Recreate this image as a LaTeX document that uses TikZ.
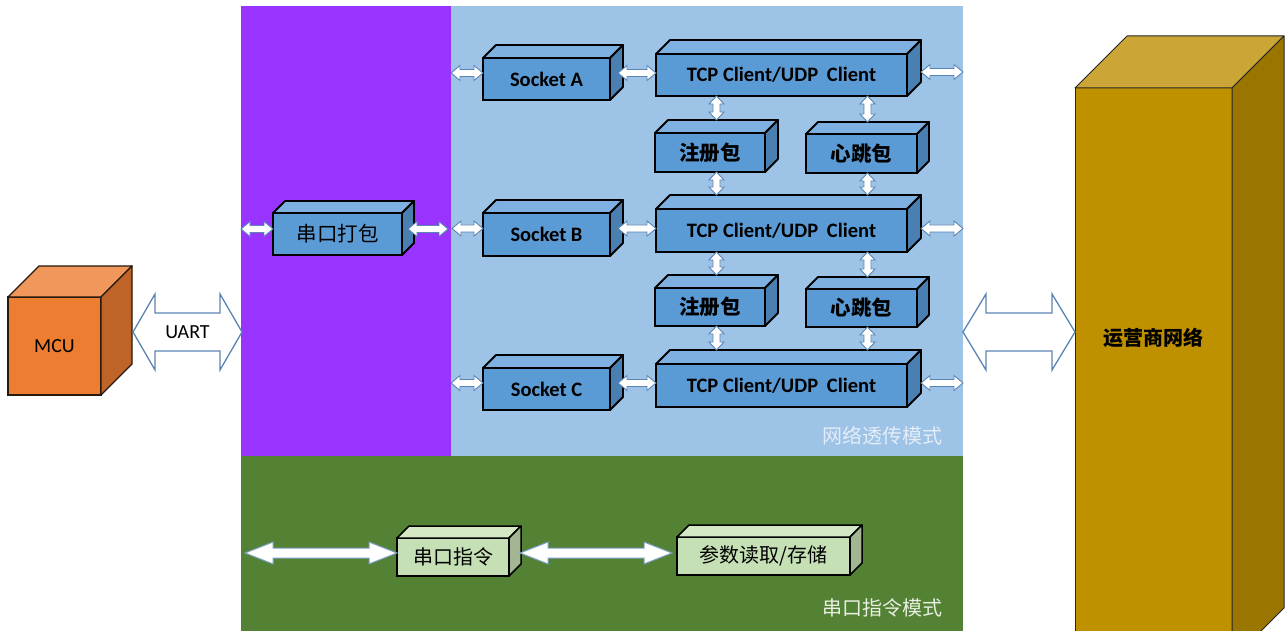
\documentclass[tikz,border=0pt]{standalone}
\usepackage{fontspec}
\setmainfont{Carlito}
\newfontfamily\cjk{Noto Sans CJK SC}
\usetikzlibrary{calc}
\definecolor{purp}{HTML}{9933FF}
\definecolor{lblue}{HTML}{9DC3E6}
\definecolor{dgreen}{HTML}{548235}
\definecolor{bfront}{HTML}{5B9BD5}
\definecolor{btop}{HTML}{7EB1E1}
\definecolor{bside}{HTML}{4A7FB2}
\definecolor{gfront}{HTML}{C5E0B4}
\definecolor{gtop}{HTML}{D4E8C6}
\definecolor{gside}{HTML}{A2B692}
\definecolor{ofront}{HTML}{ED7D31}
\definecolor{otop}{HTML}{F0985C}
\definecolor{oside}{HTML}{BF6428}
\definecolor{yfront}{HTML}{BF9000}
\definecolor{ytop}{HTML}{CBA535}
\definecolor{yside}{HTML}{9A7500}
\definecolor{arrline}{HTML}{5A85B3}
\definecolor{lbltxt}{HTML}{E4EDF7}
\definecolor{lgtxt}{HTML}{E8EFE2}
\tikzset{
  anc/.style={inner sep=0, outer sep=0, anchor=north west},
  ft/.style={font=\fontsize{20}{24}\selectfont},
  bluefront/.style={fill=bfront, draw=black, line width=1.8, ft, font=\fontsize{20.5}{24}\selectfont\bfseries},
  bluetop/.style={fill=btop, draw=black, line width=1.8, line join=round},
  blueside/.style={fill=bside, draw=black, line width=1.8, line join=round},
  greenfront/.style={fill=gfront, draw=black, line width=1.5, ft},
  greentop/.style={fill=gtop, draw=black, line width=1.5, line join=round},
  greenside/.style={fill=gside, draw=black, line width=1.5, line join=round},
  orangefront/.style={fill=ofront, draw=black!80!brown, line width=1.4, ft},
  orangetop/.style={fill=otop, draw=black!80!brown, line width=1.4, line join=round},
  orangeside/.style={fill=oside, draw=black!80!brown, line width=1.4, line join=round},
  goldfront/.style={fill=yfront, draw=black!85, line width=1, ft},
  goldtop/.style={fill=ytop, draw=black!85, line width=1, line join=round},
  goldside/.style={fill=yside, draw=black!85, line width=1, line join=round},
  sarrow/.style={fill=white, draw=arrline, line width=0.9},
  barrow/.style={fill=white, draw=arrline, line width=1.3},
  garrow/.style={fill=white, draw=arrline!80!white, line width=1},
}
% 3D box: name, x1, y1, x2, y2 (front face, pixels), depth, family, text
\newcommand\boxiii[8]{%
  \node[#7front, anc, minimum width={(#4)-(#2)}, minimum height={(#5)-(#3)}] (#1) at (#2,#3) {#8};
  \filldraw[#7top] (#1.north west) -- ([xshift=#6,yshift=#6]#1.north west) -- ([xshift=#6,yshift=#6]#1.north east) -- (#1.north east) -- cycle;
  \filldraw[#7side] (#1.north east) -- ([xshift=#6,yshift=#6]#1.north east) -- ([xshift=#6,yshift=#6]#1.south east) -- (#1.south east) -- cycle;
}
% horizontal block double arrow: from, to, half shaft, half head, head length, style
\newcommand\hdbl[6]{%
  \draw[#6] (#1) -- ($(#1)+(#5,-#4)$) -- ($(#1)+(#5,-#3)$) -- ($(#2)+(-#5,-#3)$) -- ($(#2)+(-#5,-#4)$) -- (#2)
    -- ($(#2)+(-#5,#4)$) -- ($(#2)+(-#5,#3)$) -- ($(#1)+(#5,#3)$) -- ($(#1)+(#5,#4)$) -- cycle;}
% vertical block double arrow: top, bottom, half shaft, half head, head length, style
\newcommand\vdbl[6]{%
  \draw[#6] (#1) -- ($(#1)+(-#4,#5)$) -- ($(#1)+(-#3,#5)$) -- ($(#2)+(-#3,-#5)$) -- ($(#2)+(-#4,-#5)$) -- (#2)
    -- ($(#2)+(#4,-#5)$) -- ($(#2)+(#3,-#5)$) -- ($(#1)+(#3,#5)$) -- ($(#1)+(#4,#5)$) -- cycle;}
\begin{document}
\begin{tikzpicture}[x=1pt,y=-1pt]
\clip (0,0) rectangle (1286,631);
\fill[white] (0,0) rectangle (1286,631);
% panels
\node[anc, fill=purp, minimum width=210, minimum height=450] (pp) at (241,6) {};
\node[anc, fill=lblue, minimum width=512, minimum height=450] (bp) at (451,6) {};
\node[anc, fill=dgreen, minimum width=722, minimum height=176] (gp) at (241,456) {};
\node[ft, text=lbltxt] (lbl1) at (882,436) {\cjk 网络透传模式};
\node[ft, text=lgtxt] (lbl2) at (882,608) {\cjk 串口指令模式};
% blue boxes
\boxiii{sA}{483}{58}{610}{100}{13}{blue}{Socket A}
\boxiii{tA}{656}{54}{907}{96}{14}{blue}{TCP Client/UDP\hspace{0.2em} Client}
\boxiii{rA}{655}{133}{765}{172}{13}{blue}{\cjk 注册包}
\boxiii{hA}{806}{134}{917}{173}{12}{blue}{\cjk 心跳包}
\boxiii{pk}{273}{213}{402}{255}{12}{blue}{\cjk\mdseries 串口打包}
\boxiii{sB}{483}{213}{610}{256}{13}{blue}{Socket B}
\boxiii{tB}{656}{209}{907}{252}{14}{blue}{TCP Client/UDP\hspace{0.2em} Client}
\boxiii{rB}{655}{288}{765}{326}{13}{blue}{\cjk 注册包}
\boxiii{hB}{806}{289}{917}{327}{12}{blue}{\cjk 心跳包}
\boxiii{sC}{483}{368}{610}{410}{13}{blue}{Socket C}
\boxiii{tC}{656}{364}{907}{407}{14}{blue}{TCP Client/UDP\hspace{0.2em} Client}
% green boxes
\boxiii{cmd}{397}{538}{509}{576}{12}{green}{\cjk 串口指令}
\boxiii{par}{677}{537}{850}{575}{12}{green}{\cjk 参数读取/存储}
% MCU and carrier network
\boxiii{mcu}{8}{297}{101}{395}{31}{orange}{MCU}
\boxiii{net}{1075}{88}{1232}{660}{52}{gold}{}
\node[ft, font=\fontsize{20}{24}\selectfont\bfseries] (netlbl) at ([yshift=21]net.center |- 0,359) {\cjk 运营商网络};
% row A arrows
\coordinate (a1) at ([yshift=6]sA.west);
\coordinate (a0) at (bp.west |- a1);
\coordinate (a2) at ([xshift=8,yshift=6]sA.east);
\coordinate (a3) at (tA.west |- a2);
\coordinate (a4) at ([xshift=14,yshift=3]tA.east);
\coordinate (a5) at (bp.east |- a4);
\hdbl{a0}{a1}{3.5}{7.5}{9}{sarrow}
\hdbl{a2}{a3}{3.5}{7.5}{9}{sarrow}
\hdbl{a4}{a5}{3.5}{7.5}{9}{sarrow}
% row B arrows
\coordinate (k1) at ([yshift=5]pk.west);
\coordinate (k0) at (pp.west |- k1);
\coordinate (k2) at ([xshift=6,yshift=5]pk.east);
\coordinate (k3) at ($(pp.east |- k2)+(-3,0)$);
\hdbl{k0}{k1}{3.5}{7.5}{9}{sarrow}
\hdbl{k2}{k3}{3.5}{7.5}{9}{sarrow}
\coordinate (b1) at ([yshift=6]sB.west);
\coordinate (b0) at ($(bp.west |- b1)+(1,0)$);
\coordinate (b2) at ([xshift=8,yshift=6]sB.east);
\coordinate (b3) at (tB.west |- b2);
\coordinate (b4) at ([xshift=14,yshift=2]tB.east);
\coordinate (b5) at (bp.east |- b4);
\hdbl{b0}{b1}{3.5}{7.5}{9}{sarrow}
\hdbl{b2}{b3}{3.5}{7.5}{9}{sarrow}
\hdbl{b4}{b5}{3.5}{7.5}{9}{sarrow}
% row C arrows
\coordinate (c1) at ([yshift=6]sC.west);
\coordinate (c0) at (bp.west |- c1);
\coordinate (c2) at ([xshift=8,yshift=6]sC.east);
\coordinate (c3) at (tC.west |- c2);
\coordinate (c4) at ([xshift=14,yshift=2.5]tC.east);
\coordinate (c5) at (bp.east |- c4);
\hdbl{c0}{c1}{3.5}{7.5}{9}{sarrow}
\hdbl{c2}{c3}{3.5}{7.5}{9}{sarrow}
\hdbl{c4}{c5}{3.5}{7.5}{9}{sarrow}
% vertical arrows
\coordinate (v1) at ($(rA.north |- tA.south)+(6.5,0)$);
\coordinate (v2) at ($(rA.north)+(6.5,-13)$);
\coordinate (v3) at ($(rA.south)+(6.5,0)$);
\coordinate (v4) at ($(rA.south |- tB.north)+(6.5,-14)$);
\coordinate (w1) at ($(hA.north |- tA.south)+(6,0)$);
\coordinate (w2) at ($(hA.north)+(6,-12)$);
\coordinate (w3) at ($(hA.south)+(6,0)$);
\coordinate (w4) at ($(hA.south |- tB.north)+(6,-14)$);
\vdbl{v1}{v2}{3.5}{7.5}{8}{sarrow}
\vdbl{v3}{v4}{3.5}{7.5}{8}{sarrow}
\vdbl{w1}{w2}{3.5}{7.5}{8}{sarrow}
\vdbl{w3}{w4}{3.5}{7.5}{8}{sarrow}
\coordinate (v5) at ($(rB.north |- tB.south)+(6.5,0)$);
\coordinate (v6) at ($(rB.north)+(6.5,-13)$);
\coordinate (v7) at ($(rB.south)+(6.5,0)$);
\coordinate (v8) at ($(rB.south |- tC.north)+(6.5,-14)$);
\coordinate (w5) at ($(hB.north |- tB.south)+(6,0)$);
\coordinate (w6) at ($(hB.north)+(6,-12)$);
\coordinate (w7) at ($(hB.south)+(6,0)$);
\coordinate (w8) at ($(hB.south |- tC.north)+(6,-14)$);
\vdbl{v5}{v6}{3.5}{7.5}{8}{sarrow}
\vdbl{v7}{v8}{3.5}{7.5}{8}{sarrow}
\vdbl{w5}{w6}{3.5}{7.5}{8}{sarrow}
\vdbl{w7}{w8}{3.5}{7.5}{8}{sarrow}
% green arrows
\coordinate (g1) at ([yshift=4]cmd.west);
\coordinate (g0) at ($(gp.west |- g1)+(4,0)$);
\coordinate (g2) at ([xshift=11,yshift=4]cmd.east);
\coordinate (g3) at ($(par.west |- g2)+(-5,0)$);
\hdbl{g0}{g1}{5}{11}{28}{garrow}
\hdbl{g2}{g3}{5}{11}{28}{garrow}
% big arrows
\coordinate (u0) at ([xshift=32,yshift=14]mcu.east);
\coordinate (u1) at ($(pp.west |- u0)+(1,0)$);
\coordinate (n0) at (bp.east |- u0);
\coordinate (n1) at (net.west |- u0);
\hdbl{u0}{u1}{19}{38}{22}{barrow}
\hdbl{n0}{n1}{19}{38}{23}{barrow}
\node[ft] (uart) at ($(u0)!0.5!(u1)$) {UART};
\end{tikzpicture}
\end{document}
